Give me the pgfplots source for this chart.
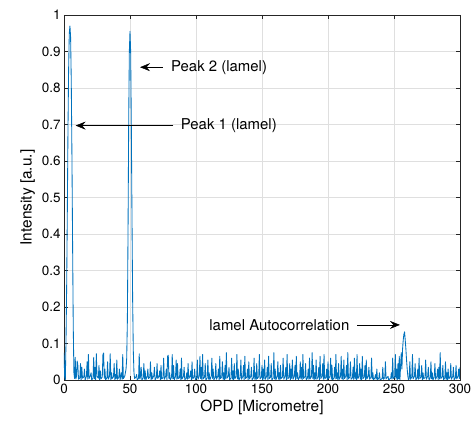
\documentclass[border=0pt]{standalone}
\usepackage{fontspec}
\setmainfont{TeX Gyre Heros}
\usepackage{pgfplots}
\pgfplotsset{compat=1.18}
\usetikzlibrary{arrows.meta}
\definecolor{mblue}{HTML}{0072BD}
\definecolor{gridgray}{HTML}{DFDFDF}
\definecolor{axgray}{HTML}{262626}

\begin{document}
\begin{tikzpicture}
\path[use as bounding box] (-64bp,-50bp) rectangle (411bp,380bp);
\begin{axis}[
  scale only axis, width=396bp, height=365bp,
  xmin=0, xmax=300, ymin=0, ymax=1,
  xtick={0,50,100,150,200,250,300},
  ytick={0,0.1,0.2,0.3,0.4,0.5,0.6,0.7,0.8,0.9,1},
  /pgf/number format/assume math mode=true,
  tick align=inside, major tick length=4bp,
  tick style={color=axgray,line width=0.5pt},
  axis line style={color=axgray,line width=0.5pt},
  grid=major, grid style={color=gridgray,line width=0.5pt},
  tick label style={font=\fontsize{13.5}{15}\selectfont,color=black},
  label style={font=\fontsize{15.5}{17}\selectfont,color=black},
  xlabel={OPD [Micrometre]}, ylabel={Intensity [a.u.]},
  clip=true,
]
\addplot[color=mblue,line width=0.85pt,mark=none,line join=round] coordinates {
(0,0.075) (0.5,0.01) (1,0.0) (1.5,0.1) (2,0.25) (2.5,0.45) (3,0.68) (3.5,0.85) (4,0.95) (4.5,0.97) (5,0.94) (5.5,0.82) (6,0.62) (6.5,0.38) (7,0.15) (7.5,0.02)
(8,0.004)(8.5,0.062)(9,0.003)(9.5,0.01)(10,0.052)(10.5,0.04)(11,0.002)(12,0.006)(12.5,0.045)(13,0.0)(13.5,0.035)(14,0.005)(15,0.008)(15.5,0.03)(16,0.0)(17,0.01)(17.5,0.05)(18,0.002)(18.5,0.07)(19,0.004)
(20,0.012)(20.5,0.02)(21,0.0)(22,0.006)(22.5,0.062)(23,0.003)(23.5,0.035)(24,0.0)(24.5,0.072)(25,0.01)(26,0.005)(26.5,0.04)(27,0.0)(27.5,0.025)(28,0.003)(29,0.008)(29.5,0.07)(30,0.074)(30.5,0.004)(31,0.03)
(31.5,0.0)(32.5,0.006)(33,0.05)(33.5,0.002)(34.5,0.01)(35,0.072)(35.5,0.0)(36,0.02)(36.5,0.004)(37.5,0.009)(38,0.045)(38.5,0.0)(39,0.015)(39.5,0.003)(40,0.055)(40.5,0.002)(41.5,0.007)(42,0.03)(42.5,0.0)
(43,0.012)(43.5,0.02)(44,0.002)(44.5,0.07)(45,0.004)(46,0.01)(46.5,0.02)
(47,0.03) (47.5,0.06) (48,0.16) (48.5,0.4) (49,0.7) (49.5,0.9) (50,0.955) (50.5,0.9) (51,0.7) (51.5,0.45) (52,0.22) (52.5,0.08) (53,0.02)
(53.5,0.004)(54.5,0.008)(55,0.015)(55.5,0.0)(56.5,0.005)(57,0.072)(57.5,0.003)(58,0.01)(58.5,0.035)(59,0.0)(60,0.006)(60.5,0.045)(61,0.002)(61.5,0.025)(62,0.0)(63,0.01)(63.5,0.03)(64,0.004)
(65,0.008)(65.5,0.05)(66,0.0)(66.5,0.02)(67,0.003)(68,0.012)(68.5,0.035)(69,0.0)(70,0.007)(70.5,0.045)(71,0.004)(72,0.01)(72.5,0.025)(73,0.0)(73.5,0.04)(74,0.003)(75,0.006)(75.5,0.06)(76,0.002)
(77,0.01)(77.5,0.03)(78,0.0)(78.5,0.065)(79,0.068)(79.5,0.004)(80,0.02)(80.5,0.0)(81.5,0.008)(82,0.07)(82.5,0.003)(83,0.04)(83.5,0.0)(84.5,0.01)(85,0.055)(85.5,0.002)(86,0.045)(86.5,0.004)
(87.5,0.006)(88,0.03)(88.5,0.0)(89,0.06)(89.5,0.003)(90.5,0.01)(91,0.035)(91.5,0.0)(92.5,0.005)(93,0.02)(93.5,0.002)(94,0.045)(94.5,0.004)(95.5,0.01)(96,0.025)(96.5,0.0)(97,0.05)(97.5,0.003)
(98.5,0.008)(99,0.03)(99.5,0.0)(100.5,0.006)(101,0.055)(101.5,0.002)(102.5,0.01)(103,0.065)(103.5,0.004)(104,0.035)(104.5,0.0)(105,0.07)(105.5,0.003)(106.5,0.008)(107,0.045)(107.5,0.0)
(108.5,0.006)(109,0.055)(109.5,0.002)(110,0.02)(110.5,0.0)(111.5,0.01)(112,0.06)(112.5,0.004)(113,0.03)(113.5,0.0)(114.5,0.007)(115,0.045)(115.5,0.002)(116.5,0.01)(117,0.03)(117.5,0.0)
(118,0.065)(118.5,0.004)(119.5,0.008)(120,0.05)(120.5,0.002)(121,0.02)(121.5,0.0)(122,0.04)(122.5,0.003)(123,0.075)(123.5,0.005)(124.5,0.01)(125,0.035)(125.5,0.0)(126.5,0.006)(127,0.06)
(127.5,0.002)(128,0.025)(128.5,0.0)(129,0.045)(129.5,0.004)(130.5,0.009)(131,0.07)(131.5,0.003)(132,0.03)(132.5,0.0)(133.5,0.007)(134,0.055)(134.5,0.002)(135.5,0.01)(136,0.04)(136.5,0.0)
(137,0.065)(137.5,0.004)(138.5,0.008)(139,0.03)(139.5,0.0)(140,0.05)(140.5,0.003)(141.5,0.01)(142,0.035)(142.5,0.0)(143.5,0.006)(144,0.06)(144.5,0.002)(145,0.02)(145.5,0.0)(146,0.045)
(146.5,0.004)(147.5,0.009)(148,0.07)(148.5,0.003)(149.5,0.007)(150,0.04)(150.5,0.0)(151,0.03)(151.5,0.003)(152,0.055)(152.5,0.002)(153.5,0.01)(154,0.035)(154.5,0.0)(155,0.065)(155.5,0.004)
(156.5,0.008)(157,0.045)(157.5,0.0)(158.5,0.006)(159,0.075)(159.5,0.003)(160,0.03)(160.5,0.0)(161.5,0.01)(162,0.05)(162.5,0.002)(163,0.02)(163.5,0.0)(164,0.04)(164.5,0.004)(165.5,0.008)
(166,0.06)(166.5,0.002)(167.5,0.01)(168,0.035)(168.5,0.0)(169,0.07)(169.5,0.003)(170.5,0.007)(171,0.045)(171.5,0.0)(172,0.03)(172.5,0.004)(173,0.055)(173.5,0.002)(174.5,0.01)(175,0.04)
(175.5,0.0)(176,0.065)(176.5,0.004)(177,0.02)(177.5,0.0)(178.5,0.008)(179,0.05)(179.5,0.003)(180,0.035)(180.5,0.0)(181,0.07)(181.5,0.004)(182.5,0.009)(183,0.045)(183.5,0.0)(184.5,0.006)
(185,0.03)(185.5,0.002)(186,0.06)(186.5,0.003)(187.5,0.01)(188,0.075)(188.5,0.004)(189,0.04)(189.5,0.0)(190,0.02)(190.5,0.003)(191,0.055)(191.5,0.002)(192.5,0.008)(193,0.035)(193.5,0.0)
(194,0.065)(194.5,0.004)(195.5,0.01)(196,0.045)(196.5,0.002)(197,0.07)(197.5,0.003)(198.5,0.007)(199,0.03)(199.5,0.0)(200,0.05)(200.5,0.004)(201.5,0.01)(202,0.06)(202.5,0.002)(203,0.04)
(203.5,0.0)(204.5,0.006)(205,0.035)(205.5,0.003)(206,0.07)(206.5,0.004)(207,0.02)(207.5,0.0)(208,0.045)(208.5,0.002)(209.5,0.009)(210,0.065)(210.5,0.003)(211,0.03)(211.5,0.0)(212,0.055)
(212.5,0.004)(213.5,0.01)(214,0.04)(214.5,0.0)(215,0.075)(215.5,0.003)(216.5,0.008)(217,0.05)(217.5,0.002)(218.5,0.006)(219,0.035)(219.5,0.0)(220,0.06)(220.5,0.004)(221,0.02)(221.5,0.0)
(222,0.07)(222.5,0.003)(223.5,0.01)(224,0.045)(224.5,0.002)(225,0.03)(225.5,0.0)(226,0.065)(226.5,0.004)(227.5,0.008)(228,0.04)(228.5,0.0)(229,0.055)(229.5,0.003)(230.5,0.01)(231,0.035)
(231.5,0.002)(232.5,0.007)(233,0.06)(233.5,0.003)(234,0.02)(234.5,0.0)(235.5,0.006)(236,0.015)(236.5,0.002)(237,0.03)(237.5,0.0)(238.5,0.005)(239,0.02)(239.5,0.0)(241,0.004)(241.5,0.035)
(242,0.002)(243,0.006)(243.5,0.05)(244,0.003)(245,0.008)(245.5,0.01)(246,0.0)(247.5,0.005)(248,0.02)(248.5,0.002)(249,0.06)(249.5,0.004)(250.5,0.008)(251,0.07)(251.5,0.003)(252,0.03)
(252.5,0.0)(253,0.045)(253.5,0.003)(254,0.065)(254.5,0.0)
(255,0.04)(255.5,0.075)(256,0.03)(256.5,0.085)(257,0.11)(257.5,0.125)(258,0.132)(258.5,0.11)(259,0.085)(259.5,0.055)(260,0.03)(260.5,0.01)(261,0.0)
(261.5,0.004)(262,0.05)(262.5,0.002)(263.5,0.008)(264,0.07)(264.5,0.003)(265.5,0.01)(266,0.045)(266.5,0.0)(267.5,0.006)(268,0.03)(268.5,0.002)(269,0.06)(269.5,0.004)(270.5,0.008)(271,0.04)
(271.5,0.0)(272,0.02)(272.5,0.003)(273.5,0.007)(274,0.055)(274.5,0.002)(275.5,0.01)(276,0.035)(276.5,0.0)(277.5,0.006)(278,0.05)(278.5,0.003)(279,0.02)(279.5,0.0)(280.5,0.008)(281,0.045)
(281.5,0.002)(282.5,0.01)(283,0.03)(283.5,0.0)(284,0.035)(284.5,0.003)(285,0.075)(285.5,0.004)(286.5,0.009)(287,0.04)(287.5,0.0)(288.5,0.006)(289,0.05)(289.5,0.002)(290,0.02)(290.5,0.0)
(291,0.03)(291.5,0.003)(292.5,0.008)(293,0.045)(293.5,0.002)(294.5,0.01)(295,0.035)(295.5,0.0)(296.5,0.006)(297,0.04)(297.5,0.003)(298.5,0.01)(299,0.03)(299.5,0.004)(300,0.035)
};
% annotations
\tikzset{marr/.style={-{Stealth[length=10bp,width=8bp,inset=3.5bp]},line width=0.5pt,black}}
\draw[marr] (axis cs:75,0.857) -- (axis cs:57.6,0.857);
\node[anchor=west,inner sep=0pt,font=\fontsize{15}{17}\selectfont] at (axis cs:81,0.857) {Peak 2 (lamel)};
\draw[marr] (axis cs:82.8,0.697) -- (axis cs:8.8,0.697);
\node[anchor=west,inner sep=0pt,font=\fontsize{15}{17}\selectfont] at (axis cs:88.4,0.697) {Peak 1 (lamel)};
\draw[marr] (axis cs:222.2,0.151) -- (axis cs:254.5,0.151);
\node[anchor=east,inner sep=0pt,font=\fontsize{15}{17}\selectfont] at (axis cs:216.3,0.151) {lamel Autocorrelation};
\end{axis}
\end{tikzpicture}
\end{document}
